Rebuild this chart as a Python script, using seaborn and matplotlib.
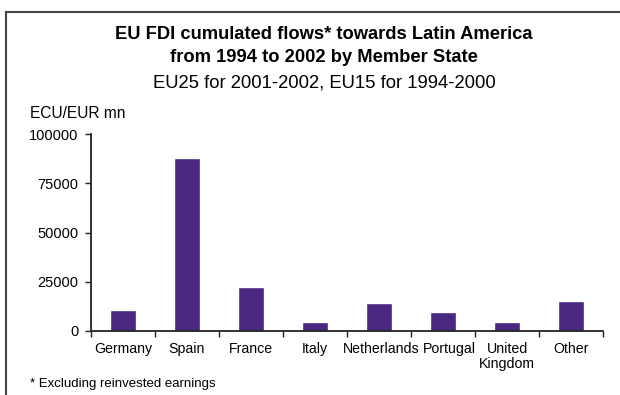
import seaborn as sns
import matplotlib.pyplot as plt
import pandas as pd
import numpy as np
from matplotlib.patches import Rectangle
from matplotlib.transforms import ScaledTranslation

# Data
countries = ["Germany", "Spain", "France", "Italy", "Netherlands",
             "Portugal", "United\nKingdom", "Other"]
flows = [10700, 88000, 22500, 4500, 14400, 9700, 4500, 15200]
y_ticks = [0, 25000, 50000, 75000, 100000]

BAR_COLOR = "#482880"

sns.set_style("white")
plt.rcParams["font.family"] = ["Liberation Sans", "DejaVu Sans"]
plt.rcParams["text.color"] = "black"
plt.rcParams["xtick.color"] = "black"
plt.rcParams["ytick.color"] = "black"

df = pd.DataFrame({"country": countries, "flow": flows})

fig = plt.figure(figsize=(6.2, 3.95), dpi=100)
ax = fig.add_axes([91 / 620, 1 - 331 / 395, 512 / 620, 197 / 395])

sns.barplot(data=df, x="country", y="flow", color=BAR_COLOR,
            width=0.42, saturation=1, ax=ax)

ax.set_xlim(-0.5, len(countries) - 0.5)
ax.set_ylim(0, 100000)
ax.set_yticks(y_ticks)
ax.set_yticklabels([str(t) for t in y_ticks], fontsize=10.5)

# tick marks between bars, labels under bars
ax.set_xticks(np.arange(-0.5, len(countries), 1.0))
ax.set_xticklabels([])
ax.set_xticks(np.arange(len(countries)), minor=True)
ax.set_xticklabels(countries, minor=True, fontsize=10.2, linespacing=1.1)
ax.tick_params(axis="x", which="major", direction="out", length=4,
               width=1, color="#222222", bottom=True)
ax.tick_params(axis="x", which="minor", length=0, pad=8)
ax.tick_params(axis="y", direction="out", length=4, width=1,
               color="#222222", left=True, pad=5)

# nudge Netherlands / Portugal apart a little, like the reference
for lbl in ax.get_xticklabels(minor=True):
    if lbl.get_text() == "Portugal":
        lbl.set_transform(lbl.get_transform() + ScaledTranslation(0.06, 0, fig.dpi_scale_trans))
    if lbl.get_text() == "Netherlands":
        lbl.set_transform(lbl.get_transform() + ScaledTranslation(0.02, 0, fig.dpi_scale_trans))

ax.set_xlabel("")
ax.set_ylabel("")
sns.despine(ax=ax)
for side in ["left", "bottom"]:
    ax.spines[side].set_color("#222222")
    ax.spines[side].set_linewidth(1.3)

# titles
cx = 324 / 620
fig.text(cx, 1 - 39 / 395, "EU FDI cumulated flows* towards Latin America",
         ha="center", va="baseline", fontsize=13.2, fontweight="bold")
fig.text(cx, 1 - 62 / 395, "from 1994 to 2002 by Member State",
         ha="center", va="baseline", fontsize=13.2, fontweight="bold")
fig.text(cx, 1 - 87 / 395, "EU25 for 2001-2002, EU15 for 1994-2000",
         ha="center", va="baseline", fontsize=13.3)
fig.text(30 / 620, 1 - 118 / 395, "ECU/EUR mn", ha="left", va="baseline",
         fontsize=11.2)
fig.text(30 / 620, 1 - 387 / 395, "* Excluding reinvested earnings",
         ha="left", va="baseline", fontsize=9.5)

# outer frame, cut off at right and bottom as in the reference
fig.patches.append(Rectangle((6 / 620, -0.1), 1.0, 1.1 - 12 / 395,
                             transform=fig.transFigure, fill=False,
                             edgecolor="#444444", linewidth=1.5))

fig.savefig("out.png", dpi=100)
